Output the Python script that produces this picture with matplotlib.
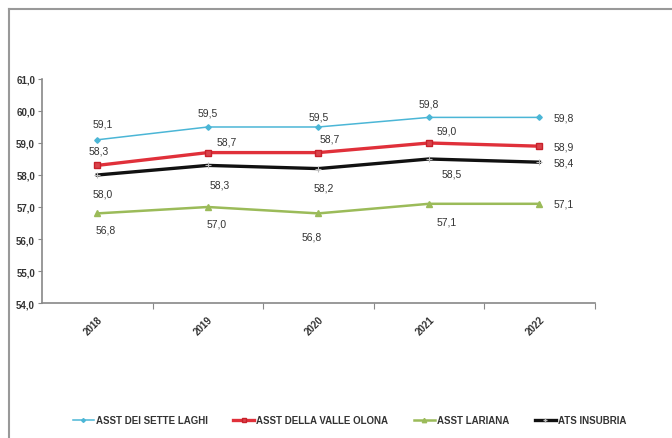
import matplotlib
matplotlib.use("Agg")
import matplotlib.pyplot as plt
from matplotlib.lines import Line2D
from matplotlib.ticker import FuncFormatter, FixedLocator

plt.rcParams['font.family'] = ['Liberation Sans Narrow', 'Liberation Sans', 'DejaVu Sans']

years = ["2018", "2019", "2020", "2021", "2022"]
sette_laghi = [59.1, 59.5, 59.5, 59.8, 59.8]
valle_olona = [58.3, 58.7, 58.7, 59.0, 58.9]
lariana = [56.8, 57.0, 56.8, 57.1, 57.1]
insubria = [58.0, 58.3, 58.2, 58.5, 58.4]

series_names = ["ASST DEI SETTE LAGHI", "ASST DELLA VALLE OLONA", "ASST LARIANA", "ATS INSUBRIA"]

fig = plt.figure(figsize=(6.72, 4.39), dpi=100)
ax = fig.add_axes([0.0625, 0.3075, 0.8225, 0.5103])

x = list(range(len(years)))

styles = [
    dict(color="#4BB6D6", lw=1.1, marker="D", ms=2.8, mfc="#4BB6D6", mec="#4BB6D6"),
    dict(color="#E0303A", lw=2.4, marker="s", ms=5.0, mfc="#D9434B", mec="#C8202A"),
    dict(color="#9BBB59", lw=1.8, marker="^", ms=4.5, mfc="#9BBB59", mec="#9BBB59"),
    dict(color="#111111", lw=2.4, marker="+", ms=4, mec="#BBBBBB", mew=0.8),
]
all_series = [sette_laghi, valle_olona, lariana, insubria]

# draw order: green, black, red, blue on top
for idx in [2, 3, 1, 0]:
    ax.plot(x, all_series[idx], zorder=3 + idx, **styles[idx])

# label offsets in pixels, per series and year
offsets = [
    [(5, 16), (0, 14), (0, 10), (0, 14), (24, 0)],
    [(1, 15), (19, 11), (11, 14), (18, 12), (24, 0)],
    [(8, -16), (9, -17), (-7, -23), (18, -18), (24, 0)],
    [(5, -19), (12, -19), (5, -19), (23, -15), (24, 0)],
]
for s, vals in enumerate(all_series):
    for i, v in enumerate(vals):
        dx, dy = offsets[s][i]
        ax.annotate(f"{v:.1f}".replace(".", ","), (i, v), xytext=(dx, dy),
                    textcoords="offset pixels", ha="center", va="center",
                    fontsize=7.5, color="#333333")

ax.set_ylim(54, 61)
ax.set_xlim(-0.5, 4.5)
ax.set_yticks([54, 55, 56, 57, 58, 59, 60, 61])
ax.yaxis.set_major_formatter(FuncFormatter(lambda v, p: f"{v:.1f}".replace(".", ",")))
ax.tick_params(axis="y", labelsize=7, colors="#333333", length=3, width=0.8,
               direction="out", pad=2)
ax.tick_params(axis="y", color="#888888")

ax.xaxis.set_major_locator(FixedLocator([0.5, 1.5, 2.5, 3.5, 4.5]))
ax.xaxis.set_minor_locator(FixedLocator(x))
ax.xaxis.set_major_formatter(FuncFormatter(lambda v, p: ""))
ax.set_xticks(x, years, minor=True)
ax.tick_params(axis="x", which="major", length=4, width=0.8, color="#888888", direction="out")
ax.tick_params(axis="x", which="minor", length=0, pad=8, labelsize=7, labelcolor="#333333")
for lab in ax.get_xticklabels(minor=True):
    lab.set_rotation(45)
    lab.set_ha("right")
    lab.set_rotation_mode("anchor")
    lab.set_fontweight("bold")
for lab in ax.get_yticklabels():
    lab.set_fontweight("bold")

for side in ["top", "right"]:
    ax.spines[side].set_visible(False)
for side in ["left", "bottom"]:
    ax.spines[side].set_color("#888888")
    ax.spines[side].set_linewidth(1.2)

handles = []
for st, name in zip(styles, series_names):
    h = Line2D([0], [0], color=st["color"], lw=st["lw"], marker=st["marker"],
               ms=st["ms"] * 0.7, mfc=st.get("mfc", st["color"]), mec=st["mec"])
    handles.append(h)
leg = fig.legend(handles, series_names, loc="center", bbox_to_anchor=(0.52, 0.041),
                 ncol=4, frameon=False, handlelength=2.2, handletextpad=0.2,
                 columnspacing=2.6, prop={"weight": "bold", "size": 7})
for t in leg.get_texts():
    t.set_color("#333333")

# outer frame lines
fig.add_artist(Line2D([9 / 672, 9 / 672], [0, 1 - 10 / 439], transform=fig.transFigure,
                      color="#999999", lw=1.5))
fig.add_artist(Line2D([9 / 672, 1], [1 - 10 / 439, 1 - 10 / 439], transform=fig.transFigure,
                      color="#999999", lw=1.5))

fig.savefig("out.png", dpi=100)
